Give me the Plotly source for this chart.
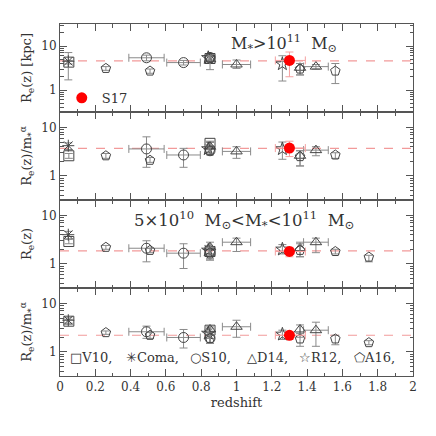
import plotly.graph_objects as go
from plotly.subplots import make_subplots

# redshifts of each sample
z_v10 = [0.05, 0.85]
z_coma = [0.047]
z_s10 = [0.49, 0.70, 0.85]
zerr_s10 = [0.10, 0.095, 0.0]
z_d14 = [0.85, 1.0, 1.36, 1.45]
zerr_d14 = [0.0, 0.08, 0.0, 0.07]
z_r12 = [0.84, 1.26]
z_a16 = [0.26, 0.51, 0.85, 1.36, 1.56, 1.75]
z_s17 = [1.30]
zlo_s17 = [0.08]
zhi_s17 = [0.09]

# values per panel (1: Re, 2: Re/m^a, 3: Re, 4: Re/m^a); each entry (value, low, high)
v10 = [
    [(4.3, 3.9, 4.7), (5.2, 4.7, 5.7)],
    [(2.6, 2.3, 2.9), (4.7, 4.2, 5.2)],
    [(2.9, 2.6, 3.2), (1.8, 1.6, 2.0)],
    [(4.3, 3.9, 4.7), (2.8, 2.5, 3.1)],
]
coma = [
    [(4.5, 1.7, 7.1)],
    [(4.2, 3.5, 4.8)],
    [(4.0, 3.3, 4.7)],
    [(4.5, 3.7, 5.2)],
]
s10 = [
    [(5.4, 4.6, 6.2), (4.2, 3.7, 4.7), (5.5, 4.8, 6.2)],
    [(3.6, 1.5, 6.4), (2.7, 1.5, 3.7), (3.3, 2.7, 4.9)],
    [(2.1, 1.1, 3.0), (1.66, 0.8, 2.6), (1.65, 1.2, 2.2)],
    [(2.6, 1.9, 3.4), (1.98, 1.2, 2.9), (1.9, 1.5, 2.3)],
]
d14 = [
    [(5.0, 2.9, 6.0), (3.8, 3.1, 4.8), (3.2, 2.2, 4.0), (3.4, 3.0, 3.8)],
    [(4.0, 2.8, 5.0), (3.2, 2.3, 4.0), (2.6, 1.6, 3.3), (3.4, 2.6, 4.0)],
    [(2.2, 1.2, 2.8), (2.8, 1.8, 3.4), (2.1, 1.4, 2.8), (2.8, 1.7, 3.4)],
    [(2.9, 1.9, 3.4), (3.3, 2.0, 4.5), (2.9, 2.0, 3.6), (2.8, 1.3, 4.1)],
]
r12 = [
    [(5.4, 4.6, 6.2), (3.9, 1.6, 6.0)],
    [(3.6, 3.0, 4.4), (3.6, 2.2, 5.0)],
    [(1.9, 1.5, 2.4), (2.0, 1.6, 2.5)],
    [(2.4, 1.9, 2.9), (2.3, 1.8, 2.8)],
]
a16 = [
    [(3.1, 2.8, 3.4), (2.7, 2.4, 3.0), (5.3, 4.6, 6.0), (3.0, 2.2, 4.0), (2.7, 1.4, 4.0), (None, None, None)],
    [(2.6, 2.3, 2.9), (2.1, 1.9, 2.4), (3.3, 2.8, 3.9), (2.5, 1.6, 3.3), (2.7, 2.3, 3.0), (None, None, None)],
    [(2.2, 2.0, 2.4), (1.9, 1.7, 2.1), (1.7, 1.3, 2.2), (1.9, 1.4, 2.6), (1.8, 1.6, 2.0), (1.38, 1.1, 1.5)],
    [(2.5, 2.3, 2.7), (2.2, 1.9, 2.5), (1.9, 1.5, 2.2), (1.85, 1.3, 2.4), (1.85, 1.4, 2.2), (1.55, 1.4, 1.7)],
]
s17 = [
    [(4.7, 2.0, 7.3)],
    [(3.75, 2.5, 5.2)],
    [(1.8, 1.4, 2.2)],
    [(2.2, 1.8, 2.6)],
]
ref_level = [4.6, 3.7, 1.85, 2.2]

ytitles = ["R<sub>e</sub>(z) [kpc]", "R<sub>e</sub>(z)/m<sub>*</sub><sup>α</sup>",
           "R<sub>e</sub>(z)", "R<sub>e</sub>(z)/m<sub>*</sub><sup>α</sup>"]
yranges = [[-0.5, 1.5], [-0.5, 1.32], [-0.5, 1.32], [-0.5, 1.32]]

# legend row at the bottom of panel 4
key_labels = ["□V10,", "✳Coma,", "○S10,", "△D14,", "☆R12,", "⬠A16,"]
key_x = [0.045, 0.36, 0.725, 1.05, 1.345, 1.655]

FONT = "DejaVu Serif"
INK = "#555555"
ERR = "#8a8a8a"

fig = make_subplots(rows=4, cols=1, shared_xaxes=True, vertical_spacing=0)

samples = [
    ("V10", "square-open", z_v10, None, v10),
    ("Coma", "asterisk-open", z_coma, None, coma),
    ("S10", "circle-open", z_s10, zerr_s10, s10),
    ("D14", "triangle-up-open", z_d14, zerr_d14, d14),
    ("R12", "star-open", z_r12, None, r12),
    ("A16", "pentagon-open", z_a16, None, a16),
]

for p in range(4):
    row = p + 1
    fig.add_trace(go.Scatter(x=[0, 2], y=[ref_level[p]] * 2, mode="lines",
                             line=dict(color="#f29a9a", width=1.2, dash="dash"),
                             showlegend=False, hoverinfo="skip"), row=row, col=1)
    for name, sym, zz, zerr, vals in samples:
        rows = vals[p]
        y = [r[0] for r in rows]
        up = [None if r[0] is None else r[2] - r[0] for r in rows]
        dn = [None if r[0] is None else r[0] - r[1] for r in rows]
        kw = {}
        if zerr is not None:
            kw["error_x"] = dict(type="data", array=zerr, color=ERR, thickness=1, width=4)
        fig.add_trace(go.Scatter(
            x=zz, y=y, mode="markers", name=name,
            marker=dict(symbol=sym, size=10, color="#444444", line=dict(width=1, color="#444444")),
            error_y=dict(type="data", array=up, arrayminus=dn, color=ERR, thickness=1, width=4),
            showlegend=False, **kw), row=row, col=1)
    r = s17[p][0]
    fig.add_trace(go.Scatter(
        x=z_s17, y=[r[0]], mode="markers", name="S17",
        marker=dict(symbol="circle", size=11, color="red"),
        error_y=dict(type="data", array=[r[2] - r[0]], arrayminus=[r[0] - r[1]],
                     color="#f4a0a0", thickness=1, width=4),
        error_x=dict(type="data", array=zhi_s17, arrayminus=zlo_s17,
                     color="#f4a0a0", thickness=1, width=4),
        showlegend=(p == 0)), row=row, col=1)

    fig.update_yaxes(type="log", range=yranges[p], tickvals=[1, 10], ticktext=["1", "10"],
                     ticks="inside", ticklen=7, tickcolor=INK, showline=True, linecolor=INK,
                     mirror="ticks", showgrid=False, zeroline=False,
                     minor=dict(ticks="inside", ticklen=3.5, tickcolor=INK,
                                tickvals=[k * 10 ** e for e in (-1, 0, 1) for k in range(2, 10)]),
                     title=dict(text=ytitles[p], font=dict(size=13), standoff=6),
                     row=row, col=1)
    fig.update_xaxes(range=[0, 2], dtick=0.2, ticks="inside", ticklen=7, tickcolor=INK,
                     showline=True, linecolor=INK, mirror="ticks", showgrid=False, zeroline=False,
                     minor=dict(dtick=0.1, ticks="inside", ticklen=3.5, tickcolor=INK),
                     row=row, col=1)

fig.update_xaxes(title=dict(text="redshift", font=dict(size=13), standoff=4), row=4, col=1)

fig.add_annotation(text="M<sub>*</sub>>10<sup>11</sup>  M<sub>⊙</sub>", xref="x", yref="y domain",
                   x=1.27, y=0.93, showarrow=False, font=dict(size=16, color="#333"))
fig.add_annotation(text="5×10<sup>10</sup>  M<sub>⊙</sub><M<sub>*</sub><10<sup>11</sup>  M<sub>⊙</sub>",
                   xref="x3", yref="y3 domain", x=1.04, y=0.93, showarrow=False,
                   font=dict(size=16.5, color="#333"))
for lab, kx in zip(key_labels, key_x):
    fig.add_annotation(text=lab, xref="x4", yref="y4 domain", x=kx, y=0.1,
                       xanchor="left", showarrow=False, font=dict(size=13, color="#333"))

# the page body adds an 8px offset, so the figure is drawn 8px smaller
fig.update_layout(
    width=428, height=428,
    margin=dict(l=52, r=23, t=16, b=60),
    plot_bgcolor="white", paper_bgcolor="white",
    font=dict(family=FONT, size=12, color="#333"),
    legend=dict(x=0.005, y=0.79, xanchor="left", yanchor="middle", bgcolor="rgba(0,0,0,0)",
                font=dict(size=13), itemwidth=30),
)

fig.write_html("out.html")
